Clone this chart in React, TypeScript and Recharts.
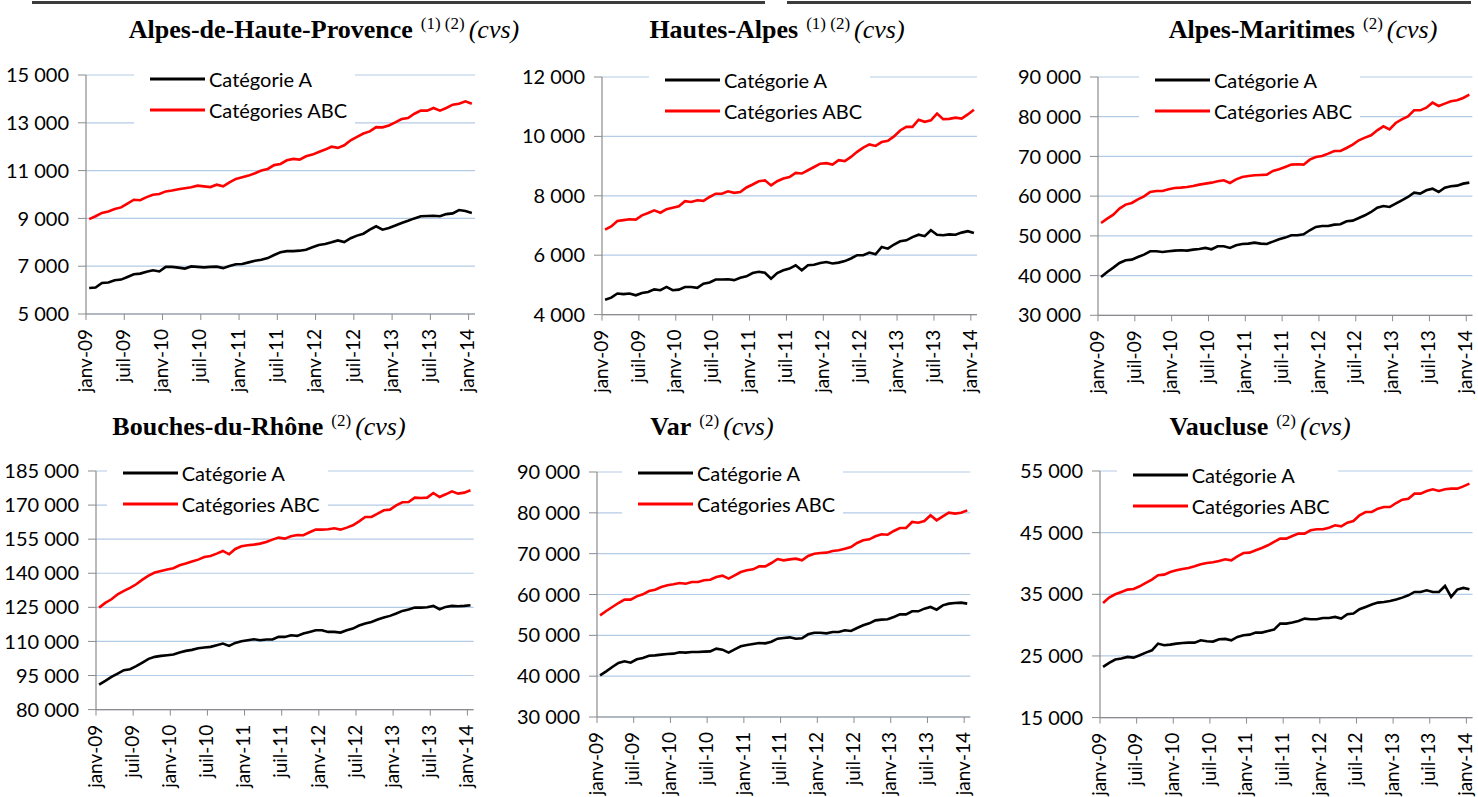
import { LineChart, Line, XAxis, YAxis, CartesianGrid, Legend } from 'recharts'

// janv-09 .. janv-14, one value per month (61 months)
const tickLabels = [
  'janv-09', 'juil-09', 'janv-10', 'juil-10', 'janv-11', 'juil-11',
  'janv-12', 'juil-12', 'janv-13', 'juil-13', 'janv-14',
]

const ahpA = [
  6090, 6110, 6300, 6320, 6410, 6440, 6550, 6660, 6690, 6770,
  6830, 6780, 6970, 6970, 6940, 6900, 6990, 6970, 6950, 6970,
  6980, 6920, 7010, 7080, 7090, 7160, 7230, 7270, 7340, 7470,
  7580, 7630, 7630, 7650, 7690, 7790, 7890, 7930, 8000, 8080,
  8010, 8170, 8280, 8360, 8530, 8670, 8530, 8600, 8700, 8810,
  8900, 9000, 9090, 9100, 9110, 9090, 9180, 9210, 9350, 9310,
  9230,
]
const ahpABC = [
  8970, 9090, 9230, 9290, 9390, 9460, 9620, 9780, 9760, 9890,
  9990, 10020, 10130, 10170, 10220, 10260, 10300, 10370, 10340, 10310,
  10410, 10340, 10510, 10650, 10720, 10790, 10890, 11000, 11070, 11230,
  11280, 11430, 11490, 11460, 11600, 11670, 11780, 11880, 12000, 11950,
  12060, 12270, 12410, 12550, 12640, 12820, 12810, 12890, 13020, 13160,
  13200, 13380, 13510, 13510, 13620, 13510, 13620, 13760, 13800, 13900,
  13800,
]

const haA = [
  4500, 4570, 4710, 4690, 4710, 4650, 4730, 4760, 4850, 4820,
  4930, 4820, 4840, 4930, 4930, 4900, 5040, 5080, 5180, 5180,
  5190, 5160, 5240, 5290, 5400, 5440, 5410, 5210, 5400, 5490,
  5550, 5660, 5490, 5660, 5680, 5740, 5770, 5720, 5750, 5800,
  5890, 6000, 6000, 6090, 6030, 6280, 6220, 6360, 6470, 6500,
  6610, 6690, 6640, 6840, 6690, 6670, 6700, 6690, 6760, 6810,
  6750,
]
const haABC = [
  6860, 6970, 7150, 7180, 7210, 7200, 7340, 7420, 7510, 7430,
  7550, 7600, 7650, 7820, 7790, 7850, 7830, 7960, 8070, 8070,
  8150, 8100, 8130, 8280, 8380, 8490, 8520, 8350, 8490, 8580,
  8630, 8770, 8750, 8860, 8970, 9080, 9100, 9050, 9200, 9170,
  9310, 9480, 9620, 9730, 9680, 9810, 9850, 10000, 10200, 10320,
  10320, 10560, 10490, 10540, 10770, 10580, 10590, 10630, 10600, 10740,
  10900,
]

const amA = [
  39660, 40920, 42010, 43180, 43860, 44020, 44690, 45280, 46120, 46120,
  45950, 46120, 46290, 46370, 46290, 46540, 46710, 46960, 46620, 47380,
  47380, 46960, 47630, 47970, 48050, 48300, 48050, 47970, 48550, 49140,
  49560, 50150, 50150, 50400, 51410, 52250, 52500, 52500, 52830, 52920,
  53670, 53840, 54510, 55180, 56020, 57110, 57530, 57280, 58120, 58960,
  59800, 60890, 60640, 61470, 61890, 61060, 62150, 62480, 62650, 63150,
  63400,
]
const amABC = [
  53250, 54340, 55350, 56860, 57870, 58290, 59210, 59960, 61060, 61310,
  61310, 61730, 62060, 62150, 62310, 62570, 62900, 63150, 63400, 63740,
  63990, 63320, 64240, 64830, 65080, 65250, 65330, 65420, 66340, 66760,
  67350, 67930, 68020, 67930, 69190, 69860, 70120, 70700, 71370, 71370,
  72130, 72970, 74060, 74730, 75320, 76580, 77580, 76830, 78420, 79350,
  80100, 81610, 81610, 82280, 83540, 82700, 83290, 83880, 84130, 84720,
  85550,
]

const bdrA = [
  91030, 92640, 94400, 95870, 97330, 97770, 99090, 100710, 102320, 103200,
  103640, 103930, 104220, 105100, 105840, 106280, 107010, 107300, 107600, 108330,
  109060, 108040, 109360, 110090, 110530, 110970, 110530, 110820, 110820, 111990,
  111990, 112730, 112430, 113460, 114190, 114930, 114930, 114190, 114190, 113900,
  114930, 115660, 116980, 117860, 118590, 119620, 120500, 121240, 122260, 123440,
  124020, 124890, 124890, 125040, 125630, 124160, 125190, 125630, 125480, 125630,
  125920,
]
const bdrABC = [
  124890, 126950, 128560, 130760, 132220, 133540, 135160, 137210, 138970, 140290,
  141020, 141610, 142190, 143510, 144250, 145130, 146000, 147180, 147620, 148640,
  149820, 148350, 150700, 151870, 152310, 152600, 153040, 153770, 154800, 155680,
  155240, 156270, 156850, 156710, 158030, 159200, 159200, 159350, 159790, 159200,
  160080, 161100, 162860, 164770, 164770, 166240, 167700, 167990, 169900, 171220,
  171370, 173270, 173130, 173270, 175320, 173570, 174740, 176060, 175030, 175470,
  176500,
]

const varA = [
  40210, 41180, 42250, 43230, 43630, 43310, 44120, 44450, 45020, 45100,
  45270, 45430, 45510, 45840, 45760, 45920, 45920, 46000, 46080, 46740,
  46490, 45760, 46570, 47310, 47630, 47880, 48120, 48040, 48450, 49180,
  49350, 49510, 49180, 49270, 50250, 50650, 50650, 50490, 50820, 50820,
  51230, 51060, 51800, 52450, 52940, 53670, 53840, 53920, 54490, 55140,
  55140, 55880, 55880, 56530, 56940, 56290, 57350, 57760, 57920, 58000,
  57760,
]
const varABC = [
  54900, 55960, 56940, 57920, 58740, 58740, 59550, 60040, 60860, 61180,
  61840, 62250, 62490, 62820, 62650, 63060, 63060, 63470, 63630, 64290,
  64610, 63880, 64690, 65510, 65920, 66160, 66900, 66900, 67710, 68690,
  68370, 68610, 68780, 68370, 69430, 70000, 70160, 70250, 70650, 70820,
  71230, 71630, 72610, 73270, 73510, 74250, 74740, 74650, 75550, 76290,
  76290, 77760, 77590, 78000, 79390, 78160, 79140, 80040, 79800, 80040,
  80610,
]

const vauA = [
  23220, 23870, 24410, 24570, 24840, 24730, 25110, 25540, 25920, 27000,
  26730, 26840, 27000, 27110, 27160, 27160, 27540, 27380, 27330, 27700,
  27760, 27540, 28080, 28350, 28460, 28790, 28790, 29060, 29270, 30250,
  30250, 30410, 30680, 31060, 30950, 30950, 31160, 31160, 31330, 31060,
  31760, 31870, 32570, 32950, 33330, 33650, 33760, 33920, 34140, 34460,
  34840, 35380, 35380, 35650, 35380, 35380, 36350, 34570, 35760, 36030,
  35810,
]
const vauABC = [
  33600, 34460, 35000, 35380, 35760, 35870, 36300, 36840, 37380, 38080,
  38190, 38620, 38890, 39110, 39270, 39540, 39870, 40080, 40190, 40410,
  40680, 40510, 41160, 41700, 41760, 42140, 42510, 42950, 43490, 44030,
  44030, 44460, 44840, 44840, 45380, 45540, 45540, 45810, 46190, 46030,
  46620, 46890, 47810, 48350, 48350, 48890, 49160, 49160, 49810, 50350,
  50510, 51330, 51330, 51760, 52030, 51760, 52030, 52140, 52140, 52510,
  52950,
]

const FONT = 'Lato, "Open Sans", sans-serif'
const SERIF = '"Liberation Serif", "Times New Roman", serif'
const AXIS = '#8c8c8c'
const GRID = '#b4cbe6'

const fmt = (n: number) => String(n).replace(/\B(?=(\d{3})+(?!\d))/g, ' ')

function MonthTick({ x, y, payload }: any) {
  return (
    <text
      x={x}
      y={y}
      transform={`rotate(-90, ${x}, ${y})`}
      textAnchor="end"
      dy="0.3em"
      fontSize={19}
      fontFamily={FONT}
      fill="#000"
    >
      {tickLabels[Math.round(payload.value / 6)]}
    </text>
  )
}

function LegendBox() {
  const rows = [
    { label: 'Catégorie A', color: '#000000' },
    { label: 'Catégories ABC', color: '#ff0000' },
  ]
  return (
    <div style={{ background: '#fff', width: 221, height: 62, paddingLeft: 16, boxSizing: 'border-box' }}>
      {rows.map(r => (
        <div key={r.label} style={{ height: 31, display: 'flex', alignItems: 'center' }}>
          <svg width={55} height={4}>
            <line x1={0} y1={2} x2={55} y2={2} stroke={r.color} strokeWidth={3} />
          </svg>
          <span style={{ marginLeft: 4, fontFamily: FONT, fontSize: 20, color: '#000', whiteSpace: 'nowrap' }}>
            {r.label}
          </span>
        </div>
      ))}
    </div>
  )
}

interface PanelProps {
  a: number[]
  abc: number[]
  yTicks: number[]
  left: number
  top: number
  plotW: number
  plotH: number
  legendX: number
  legendY: number
}

const Y_W = 100
const M_TOP = 15
const X_H = 90

function Panel({ a, abc, yTicks, left, top, plotW, plotH, legendX, legendY }: PanelProps) {
  const data = a.map((v, i) => ({ t: i + 0.5, a: v, abc: abc[i] }))
  const chartLeft = left - Y_W
  const chartTop = top - M_TOP
  return (
    <div style={{ position: 'absolute', left: chartLeft, top: chartTop }}>
      <LineChart
        width={Y_W + plotW + 6}
        height={M_TOP + plotH + X_H}
        data={data}
        margin={{ top: M_TOP, right: 6, bottom: 0, left: 0 }}
      >
        <CartesianGrid vertical={false} stroke={GRID} strokeWidth={1.2} />
        <XAxis
          dataKey="t"
          type="number"
          domain={[0, 61]}
          ticks={[0, 6, 12, 18, 24, 30, 36, 42, 48, 54, 60]}
          interval={0}
          height={X_H}
          tick={<MonthTick />}
          tickSize={6}
          tickMargin={9}
          axisLine={{ stroke: AXIS, strokeWidth: 1.2 }}
          tickLine={{ stroke: AXIS }}
        />
        <YAxis
          type="number"
          domain={[yTicks[0], yTicks[yTicks.length - 1]]}
          ticks={yTicks}
          interval={0}
          width={Y_W}
          tickFormatter={fmt}
          tickSize={8}
          tickMargin={9}
          tick={{ fontSize: 20, fill: '#000', fontFamily: FONT }}
          axisLine={{ stroke: AXIS, strokeWidth: 1.2 }}
          tickLine={{ stroke: AXIS }}
        />
        <Legend
          layout="vertical"
          align="center"
          verticalAlign="middle"
          wrapperStyle={{ left: legendX - chartLeft, top: legendY - chartTop, width: 221, height: 62 }}
          content={() => <LegendBox />}
        />
        <Line dataKey="a" stroke="#000000" strokeWidth={2.6} dot={false} isAnimationActive={false} />
        <Line dataKey="abc" stroke="#ff0000" strokeWidth={2.6} dot={false} isAnimationActive={false} />
      </LineChart>
    </div>
  )
}

function Title({ name, note, cx, baseline }: { name: string; note: string; cx: number; baseline: number }) {
  return (
    <div
      style={{
        position: 'absolute',
        left: cx,
        top: baseline - 24,
        transform: 'translateX(-50%)',
        whiteSpace: 'nowrap',
        fontFamily: SERIF,
        fontSize: 26,
        lineHeight: '30px',
        color: '#000',
      }}
    >
      <b>{name}</b>
      <span style={{ fontSize: 17, position: 'relative', top: -9, marginLeft: 8, marginRight: 4 }}>{note}</span>
      <i>(cvs)</i>
    </div>
  )
}

export default function App() {
  return (
    <div style={{ position: 'absolute', left: 0, top: 0, width: 1478, height: 797, background: '#fff', overflow: 'hidden' }}>
      <div style={{ position: 'absolute', left: 32, top: 1, width: 733, height: 3, background: '#3c3c3c' }} />
      <div style={{ position: 'absolute', left: 787, top: 1, width: 684, height: 3, background: '#3c3c3c' }} />

      <Title name="Alpes-de-Haute-Provence" note="(1) (2)" cx={324} baseline={39} />
      <Title name="Hautes-Alpes" note="(1) (2)" cx={777} baseline={39} />
      <Title name="Alpes-Maritimes" note="(2)" cx={1303} baseline={39} />
      <Title name="Bouches-du-Rhône" note="(2)" cx={259} baseline={436} />
      <Title name="Var" note="(2)" cx={712} baseline={436} />
      <Title name="Vaucluse" note="(2)" cx={1260} baseline={436} />

      <Panel a={ahpA} abc={ahpABC} yTicks={[5000, 7000, 9000, 11000, 13000, 15000]}
        left={86} top={75.3} plotW={389} plotH={239} legendX={134} legendY={63.8} />
      <Panel a={haA} abc={haABC} yTicks={[4000, 6000, 8000, 10000, 12000]}
        left={601.7} top={76.7} plotW={375} plotH={237.6} legendX={649} legendY={64.5} />
      <Panel a={amA} abc={amABC} yTicks={[30000, 40000, 50000, 60000, 70000, 80000, 90000]}
        left={1098.3} top={76.7} plotW={374.4} plotH={238.3} legendX={1139} legendY={64.5} />
      <Panel a={bdrA} abc={bdrABC} yTicks={[80000, 95000, 110000, 125000, 140000, 155000, 170000, 185000]}
        left={95.7} top={470.7} plotW={377.6} plotH={238.6} legendX={106.7} legendY={457.8} />
      <Panel a={varA} abc={varABC} yTicks={[30000, 40000, 50000, 60000, 70000, 80000, 90000]}
        left={596.7} top={471.7} plotW={373.3} plotH={245} legendX={622} legendY={457.2} />
      <Panel a={vauA} abc={vauABC} yTicks={[15000, 25000, 35000, 45000, 55000]}
        left={1100} top={470.7} plotW={372.5} plotH={246.6} legendX={1116.7} legendY={459.2} />
    </div>
  )
}
